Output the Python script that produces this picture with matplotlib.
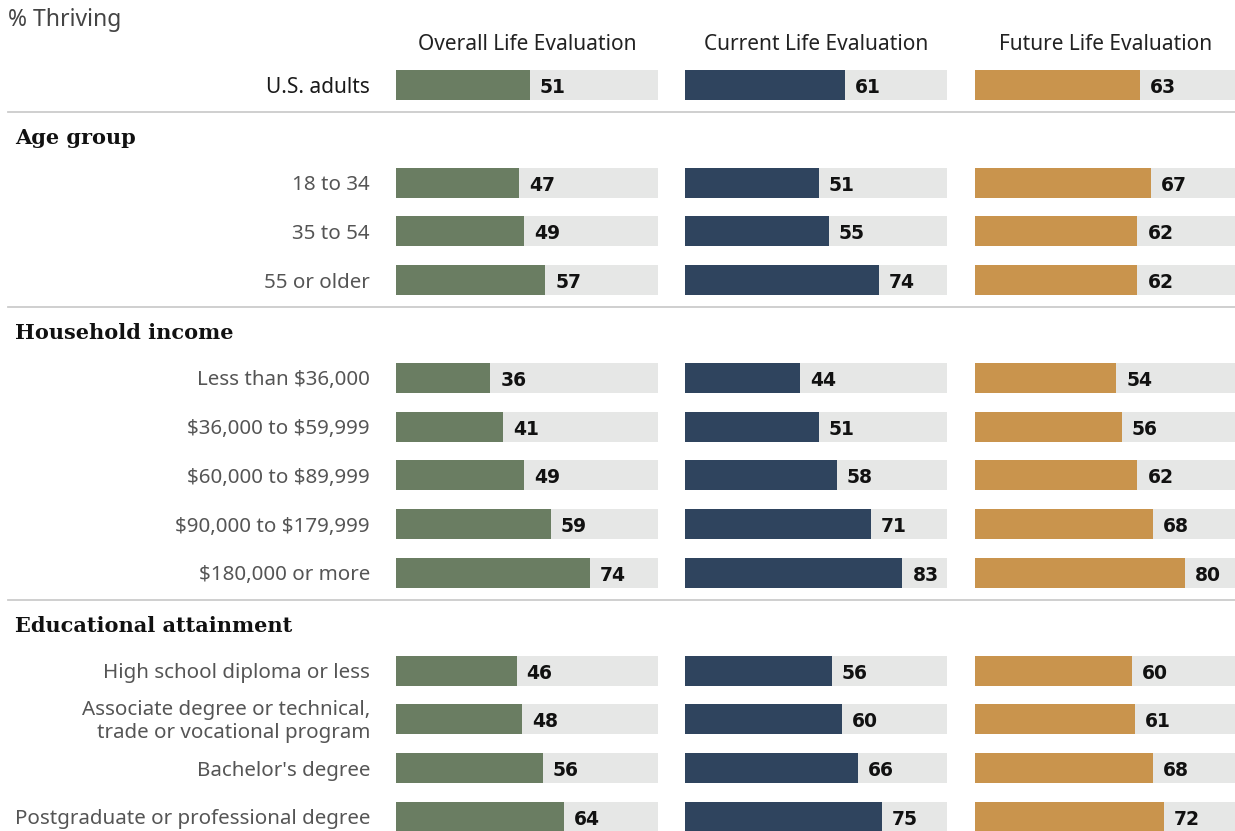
import numpy as np
import matplotlib.pyplot as plt

# Data (% thriving)
columns = ['Overall Life Evaluation', 'Current Life Evaluation', 'Future Life Evaluation']
sections = ['Age group', 'Household income', 'Educational attainment']

labels = ['U.S. adults',
          '18 to 34', '35 to 54', '55 or older',
          r'Less than \$36,000', r'\$36,000 to \$59,999', r'\$60,000 to \$89,999',
          r'\$90,000 to \$179,999', r'\$180,000 or more',
          'High school diploma or less',
          'Associate degree or technical,\ntrade or vocational program',
          "Bachelor's degree", 'Postgraduate or professional degree']
overall = [51, 47, 49, 57, 36, 41, 49, 59, 74, 46, 48, 56, 64]
current = [61, 51, 55, 74, 44, 51, 58, 71, 83, 56, 60, 66, 75]
future = [63, 67, 62, 62, 54, 56, 62, 68, 80, 60, 61, 68, 72]

# row positions (in row units): total row, then three sections
ypos = [0, 2, 3, 4, 6, 7, 8, 9, 10, 12, 13, 14, 15]
sep_y = [0.55, 4.55, 10.55]
head_y = [1.07, 5.07, 11.07]

colors = ['#6a7d62', '#2f445e', '#c9944d']
bg = '#e6e7e6'
sans = 'Noto Sans'

W, H = 1235, 831
fig = plt.figure(figsize=(W / 100, H / 100), dpi=100)

px_per_row = 48.8
y_top = -85 / px_per_row
y_bot = (H - 85) / px_per_row
bar_h = 30 / px_per_row
dy = 0.05  # small downward nudge so text sits like the original

lefts = [396, 685, 975]
width = 262
for i, vals in enumerate([overall, current, future]):
    ax = fig.add_axes([lefts[i] / W, 0, width / W, 1])
    ax.set_xlim(0, 100)
    ax.set_ylim(y_bot, y_top)
    ax.axis('off')
    ax.barh(ypos, [100] * len(ypos), height=bar_h, color=bg, clip_on=False)
    ax.barh(ypos, vals, height=bar_h, color=colors[i])
    for y, v in zip(ypos, vals):
        ax.text(v + 3.8, y + 0.05, str(v), va='center', ha='left',
                fontsize=13.5, fontweight='bold', color='#111111',
                family='DejaVu Sans')
    ax.text(50, -0.85 + 0.03, columns[i], ha='center', va='center', fontsize=15,
            color='#222222', family=sans)

# background axes for labels and separators (same y scale)
lab = fig.add_axes([0, 0, 1, 1], zorder=-1)
lab.set_xlim(0, W)
lab.set_ylim(y_bot, y_top)
lab.axis('off')

for j, (y, t) in enumerate(zip(ypos, labels)):
    if j == 0:
        lab.text(370, y + dy, t, ha='right', va='center', fontsize=15,
                 color='#1a1a1a', family=sans)
    else:
        lab.text(370, y + dy, t, ha='right', va='center', fontsize=14.8,
                 color='#555555', family=sans, linespacing=1.2)

for y in sep_y:
    lab.plot([8, W], [y, y], color='#cccccc', lw=1.3)
for y, t in zip(head_y, sections):
    lab.text(15, y + 0.02, t, ha='left', va='center', fontsize=15, fontweight='bold',
             color='#111111', family='DejaVu Serif')

lab.text(8, -1.33, '% Thriving', ha='left', va='center', fontsize=16.5,
         color='#444444', family=sans)

fig.savefig('out.png', dpi=100)
